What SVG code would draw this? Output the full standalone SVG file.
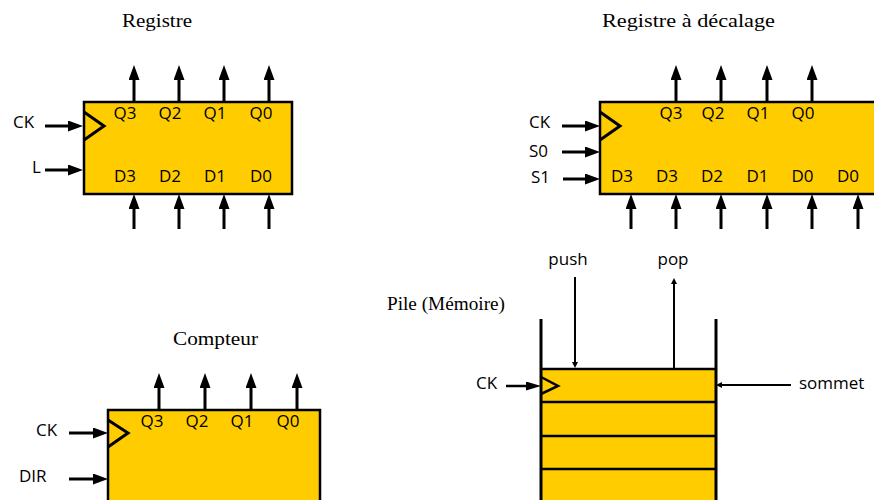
<svg xmlns="http://www.w3.org/2000/svg" width="874" height="500" viewBox="0 0 874 500">
<style>
.title{font-family:"Liberation Serif","Times New Roman",serif;font-size:19.5px;fill:#000}
.lbl{font-family:"Open Sans","Liberation Sans",sans-serif;font-size:17px;fill:#000}
.mid{text-anchor:middle}
.box{fill:#FFCC00;stroke:#000;stroke-width:2.5}
.clk{fill:none;stroke:#000;stroke-width:3}
.w{stroke:#000;stroke-width:3;fill:none}
.a{stroke:#000;stroke-width:3;fill:none;marker-end:url(#ah)}
.as{stroke:#000;stroke-width:2.5;fill:none;marker-end:url(#am)}
.at{stroke:#000;stroke-width:2;fill:none;marker-end:url(#asm)}
.sep{stroke:#000;stroke-width:2.5}
</style>
<defs>
<marker id="ah" markerUnits="userSpaceOnUse" markerWidth="16" markerHeight="12" refX="0" refY="5.5" orient="auto"><path d="M0,0 L15,5.5 L0,11 z" fill="#000"/></marker>
<marker id="am" markerUnits="userSpaceOnUse" markerWidth="16" markerHeight="10" refX="0" refY="4.5" orient="auto"><path d="M0,0 L15,4.5 L0,9 z" fill="#000"/></marker>
<marker id="asm" markerUnits="userSpaceOnUse" markerWidth="8" markerHeight="8" refX="0" refY="3" orient="auto"><path d="M0,0 L6,3 L0,6 z" fill="#000"/></marker>
</defs>
<rect width="874" height="500" fill="#fff"/>

<g id="registre">
<text class="title" x="122" y="27" textLength="70" lengthAdjust="spacingAndGlyphs">Registre</text>
<rect class="box" x="84" y="102" width="208" height="92"/>
<polyline class="clk" points="84,112 104,126 84,140"/>
<text class="lbl mid" x="125" y="119">Q3</text>
<text class="lbl mid" x="170" y="119">Q2</text>
<text class="lbl mid" x="215" y="119">Q1</text>
<text class="lbl mid" x="261" y="119">Q0</text>
<text class="lbl mid" x="125" y="182">D3</text>
<text class="lbl mid" x="170" y="182">D2</text>
<text class="lbl mid" x="215" y="182">D1</text>
<text class="lbl mid" x="261" y="182">D0</text>
<text class="lbl" x="13" y="128">CK</text>
<text class="lbl" x="32" y="173">L</text>
</g>

<g id="registre-decalage">
<text class="title" x="602" y="27" textLength="173" lengthAdjust="spacingAndGlyphs">Registre à décalage</text>
<rect class="box" x="600" y="102" width="290" height="92"/>
<polyline class="clk" points="600,112 620,126 600,140"/>
<text class="lbl mid" x="671" y="119">Q3</text>
<text class="lbl mid" x="713" y="119">Q2</text>
<text class="lbl mid" x="758" y="119">Q1</text>
<text class="lbl mid" x="803" y="119">Q0</text>
<text class="lbl mid" x="622" y="182">D3</text>
<text class="lbl mid" x="667" y="182">D3</text>
<text class="lbl mid" x="712" y="182">D2</text>
<text class="lbl mid" x="757.5" y="182">D1</text>
<text class="lbl mid" x="802.5" y="182">D0</text>
<text class="lbl mid" x="848" y="182">D0</text>
<text class="lbl" x="529" y="128">CK</text>
<text class="lbl" x="529" y="157">S0</text>
<text class="lbl" x="531" y="183">S1</text>
</g>

<g id="compteur">
<text class="title" x="173" y="345" textLength="85" lengthAdjust="spacingAndGlyphs">Compteur</text>
<rect class="box" x="108" y="410" width="212" height="100"/>
<polyline class="clk" points="108,420 128,433 108,447"/>
<text class="lbl mid" x="152" y="427">Q3</text>
<text class="lbl mid" x="197" y="427">Q2</text>
<text class="lbl mid" x="242" y="427">Q1</text>
<text class="lbl mid" x="288" y="427">Q0</text>
<text class="lbl" x="36" y="436">CK</text>
<text class="lbl" x="19" y="482">DIR</text>
</g>

<g id="pile">
<text class="title" x="387" y="310" textLength="118" lengthAdjust="spacingAndGlyphs">Pile (Mémoire)</text>
<rect x="541" y="369" width="175" height="140" fill="#FFCC00"/>
<line class="sep" x1="541" y1="369" x2="716" y2="369"/>
<line class="sep" x1="541" y1="402" x2="716" y2="402"/>
<line class="sep" x1="541" y1="436" x2="716" y2="436"/>
<line class="sep" x1="541" y1="469" x2="716" y2="469"/>
<line class="w" x1="541" y1="319" x2="541" y2="502"/>
<line class="w" x1="716" y1="319" x2="716" y2="502"/>
<polyline class="clk" points="541,377 558,386 541,394" style="stroke-width:2.5"/>
<text class="lbl mid" x="568" y="265">push</text>
<text class="lbl mid" x="673" y="265">pop</text>
<text class="lbl" x="476" y="389">CK</text>
<text class="lbl" x="799" y="389">sommet</text>
</g>

<g id="connectors">
<line class="a" x1="134" y1="102" x2="134" y2="80"/>
<line class="a" x1="179" y1="102" x2="179" y2="80"/>
<line class="a" x1="224" y1="102" x2="224" y2="80"/>
<line class="a" x1="269" y1="102" x2="269" y2="80"/>
<line class="a" x1="134" y1="229" x2="134" y2="209"/>
<line class="a" x1="179" y1="229" x2="179" y2="209"/>
<line class="a" x1="224" y1="229" x2="224" y2="209"/>
<line class="a" x1="269" y1="229" x2="269" y2="209"/>
<line class="a" x1="45" y1="126" x2="68" y2="126"/>
<line class="a" x1="45" y1="170" x2="68" y2="170"/>
<line class="a" x1="676" y1="102" x2="676" y2="80"/>
<line class="a" x1="721" y1="102" x2="721" y2="80"/>
<line class="a" x1="767" y1="102" x2="767" y2="80"/>
<line class="a" x1="812" y1="102" x2="812" y2="80"/>
<line class="a" x1="631" y1="229" x2="631" y2="209"/>
<line class="a" x1="676" y1="229" x2="676" y2="209"/>
<line class="a" x1="721" y1="229" x2="721" y2="209"/>
<line class="a" x1="767" y1="229" x2="767" y2="209"/>
<line class="a" x1="812" y1="229" x2="812" y2="209"/>
<line class="a" x1="858" y1="229" x2="858" y2="209"/>
<line class="a" x1="562" y1="126" x2="585" y2="126"/>
<line class="a" x1="562" y1="152" x2="585" y2="152"/>
<line class="a" x1="563" y1="179" x2="585" y2="179"/>
<line class="a" x1="159" y1="410" x2="159" y2="388"/>
<line class="a" x1="205" y1="410" x2="205" y2="388"/>
<line class="a" x1="251" y1="410" x2="251" y2="388"/>
<line class="a" x1="297" y1="410" x2="297" y2="388"/>
<line class="a" x1="69" y1="433" x2="93" y2="433"/>
<line class="a" x1="69" y1="479" x2="93" y2="479"/>
<line class="at" x1="575" y1="277" x2="575" y2="362"/>
<line class="at" x1="674" y1="368" x2="674" y2="284"/>
<line class="as" x1="506" y1="386" x2="526" y2="386"/>
<line class="at" x1="791" y1="385" x2="722" y2="385"/>
</g>
</svg>
